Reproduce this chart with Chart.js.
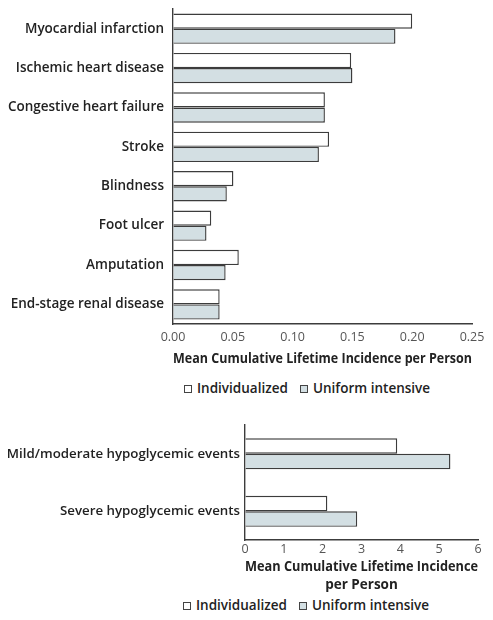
<!DOCTYPE html>
<html>
<head>
<meta charset="utf-8">
<script src="https://cdn.jsdelivr.net/npm/chart.js@4"></script>
<style>
    body { margin: 0; background: #fff; width: 493px; height: 620px; position: relative; overflow: hidden; }
    .box { position: absolute; left: 0; width: 493px; }
    .legend { position: absolute; font-family: "Open Sans", sans-serif; font-weight: 600; font-size: 13.5px; color: #222; white-space: nowrap; }
    .legend .item { position: absolute; top: 0; }
    .legend .mark { position: absolute; top: 6px; width: 6px; height: 6px; border: 1px solid #444; }
</style>
</head>
<body>
<div class="box" id="topBox" style="top:0;height:368px"><canvas id="complicationsChart"></canvas></div>
<div class="legend" style="top:379px;left:0;width:493px;height:20px">
    <div class="mark" style="left:184px;background:#fff"></div><div class="item" style="left:197px">Individualized</div>
    <div class="mark" style="left:300px;background:#d3dfe3"></div><div class="item" style="left:313px">Uniform intensive</div>
</div>
<div class="box" id="bottomBox" style="top:410px;height:184px"><canvas id="hypoChart"></canvas></div>
<div class="legend" style="top:596px;left:0;width:493px;height:20px">
    <div class="mark" style="left:183px;background:#fff"></div><div class="item" style="left:196px">Individualized</div>
    <div class="mark" style="left:299px;background:#d3dfe3"></div><div class="item" style="left:312px">Uniform intensive</div>
</div>
<script>
// Complications panel
const complicationLabels = [
    'Myocardial infarction',
    'Ischemic heart disease',
    'Congestive heart failure',
    'Stroke',
    'Blindness',
    'Foot ulcer',
    'Amputation',
    'End-stage renal disease'
];
const complicationsIndividualized = [0.200, 0.149, 0.127, 0.1305, 0.0505, 0.032, 0.055, 0.039];
const complicationsUniform = [0.186, 0.150, 0.127, 0.122, 0.045, 0.028, 0.044, 0.039];
const complicationTicks = [0, 0.05, 0.10, 0.15, 0.20, 0.25];

// Hypoglycemia panel
const hypoLabels = ['Mild/moderate hypoglycemic events', 'Severe hypoglycemic events'];
const hypoIndividualized = [3.92, 2.12];
const hypoUniform = [5.29, 2.89];
const hypoTicks = [0, 1, 2, 3, 4, 5, 6];

const FONT = '"Open Sans", sans-serif';
const INK = '#222';
const EDGE = '#3c3c3c';
const FILL_UNIFORM = '#d3dfe3';

function makeDatasets(indiv, uniform, pct) {
    return [
        {
            label: 'Individualized',
            data: indiv,
            backgroundColor: '#ffffff',
            borderColor: EDGE,
            borderWidth: 1.4,
            categoryPercentage: pct,
            barPercentage: 1
        },
        {
            label: 'Uniform intensive',
            data: uniform,
            backgroundColor: FILL_UNIFORM,
            borderColor: EDGE,
            borderWidth: 1.4,
            categoryPercentage: pct,
            barPercentage: 1
        }
    ];
}

function buildChart(canvasId, labels, datasets, ticks, opts) {
    return new Chart(document.getElementById(canvasId), {
        type: 'bar',
        data: { labels: labels, datasets: datasets },
        options: {
            indexAxis: 'y',
            responsive: true,
            maintainAspectRatio: false,
            animation: false,
            layout: { padding: { top: opts.padTop, right: opts.padRight, bottom: 0, left: 0 } },
            plugins: {
                legend: { display: false },
                tooltip: { enabled: false }
            },
            scales: {
                x: {
                    min: ticks[0],
                    max: ticks[ticks.length - 1],
                    afterBuildTicks: axis => {
                        axis.ticks = ticks.map(v => ({ value: v }));
                    },
                    grid: { display: true, drawOnChartArea: false, drawTicks: false },
                    border: { display: true, color: EDGE, width: 1.4 },
                    ticks: {
                        padding: opts.xPad,
                        color: '#555',
                        font: { family: FONT, size: 12.5, lineHeight: opts.tickLine },
                        callback: opts.tickFormat
                    },
                    title: {
                        display: true,
                        text: opts.xTitle,
                        color: INK,
                        padding: { top: opts.titlePad, bottom: 0 },
                        font: { family: FONT, size: 13.5, weight: 'bold', lineHeight: opts.titleLine }
                    }
                },
                y: {
                    afterFit: axis => {
                        axis.width = opts.yWidth;
                        // keep the label heights from pushing the plot area down
                        axis.paddingTop = 0;
                        axis.paddingBottom = 0;
                    },
                    grid: { display: true, drawOnChartArea: false, drawTicks: false },
                    border: { display: true, color: EDGE, width: 1.4 },
                    ticks: {
                        padding: opts.yPad,
                        color: INK,
                        font: { family: FONT, size: opts.labelSize, weight: '600' }
                    }
                }
            }
        }
    });
}

buildChart('complicationsChart', complicationLabels,
    makeDatasets(complicationsIndividualized, complicationsUniform, 0.77),
    complicationTicks,
    {
        padTop: 9, padRight: 21, yWidth: 173, yPad: 9, labelSize: 13.5,
        xPad: 6, tickLine: 1.2, titlePad: 0, titleLine: 1.25,
        xTitle: 'Mean Cumulative Lifetime Incidence per Person',
        tickFormat: v => v.toFixed(2)
    });

buildChart('hypoChart', hypoLabels,
    makeDatasets(hypoIndividualized, hypoUniform, 0.54),
    hypoTicks,
    {
        padTop: 15, padRight: 15, yWidth: 245, yPad: 5, labelSize: 13.3,
        xPad: 4, tickLine: 0.8, titlePad: 0, titleLine: 1.33,
        xTitle: ['Mean Cumulative Lifetime Incidence', 'per Person'],
        tickFormat: v => String(v)
    });
</script>
</body>
</html>
